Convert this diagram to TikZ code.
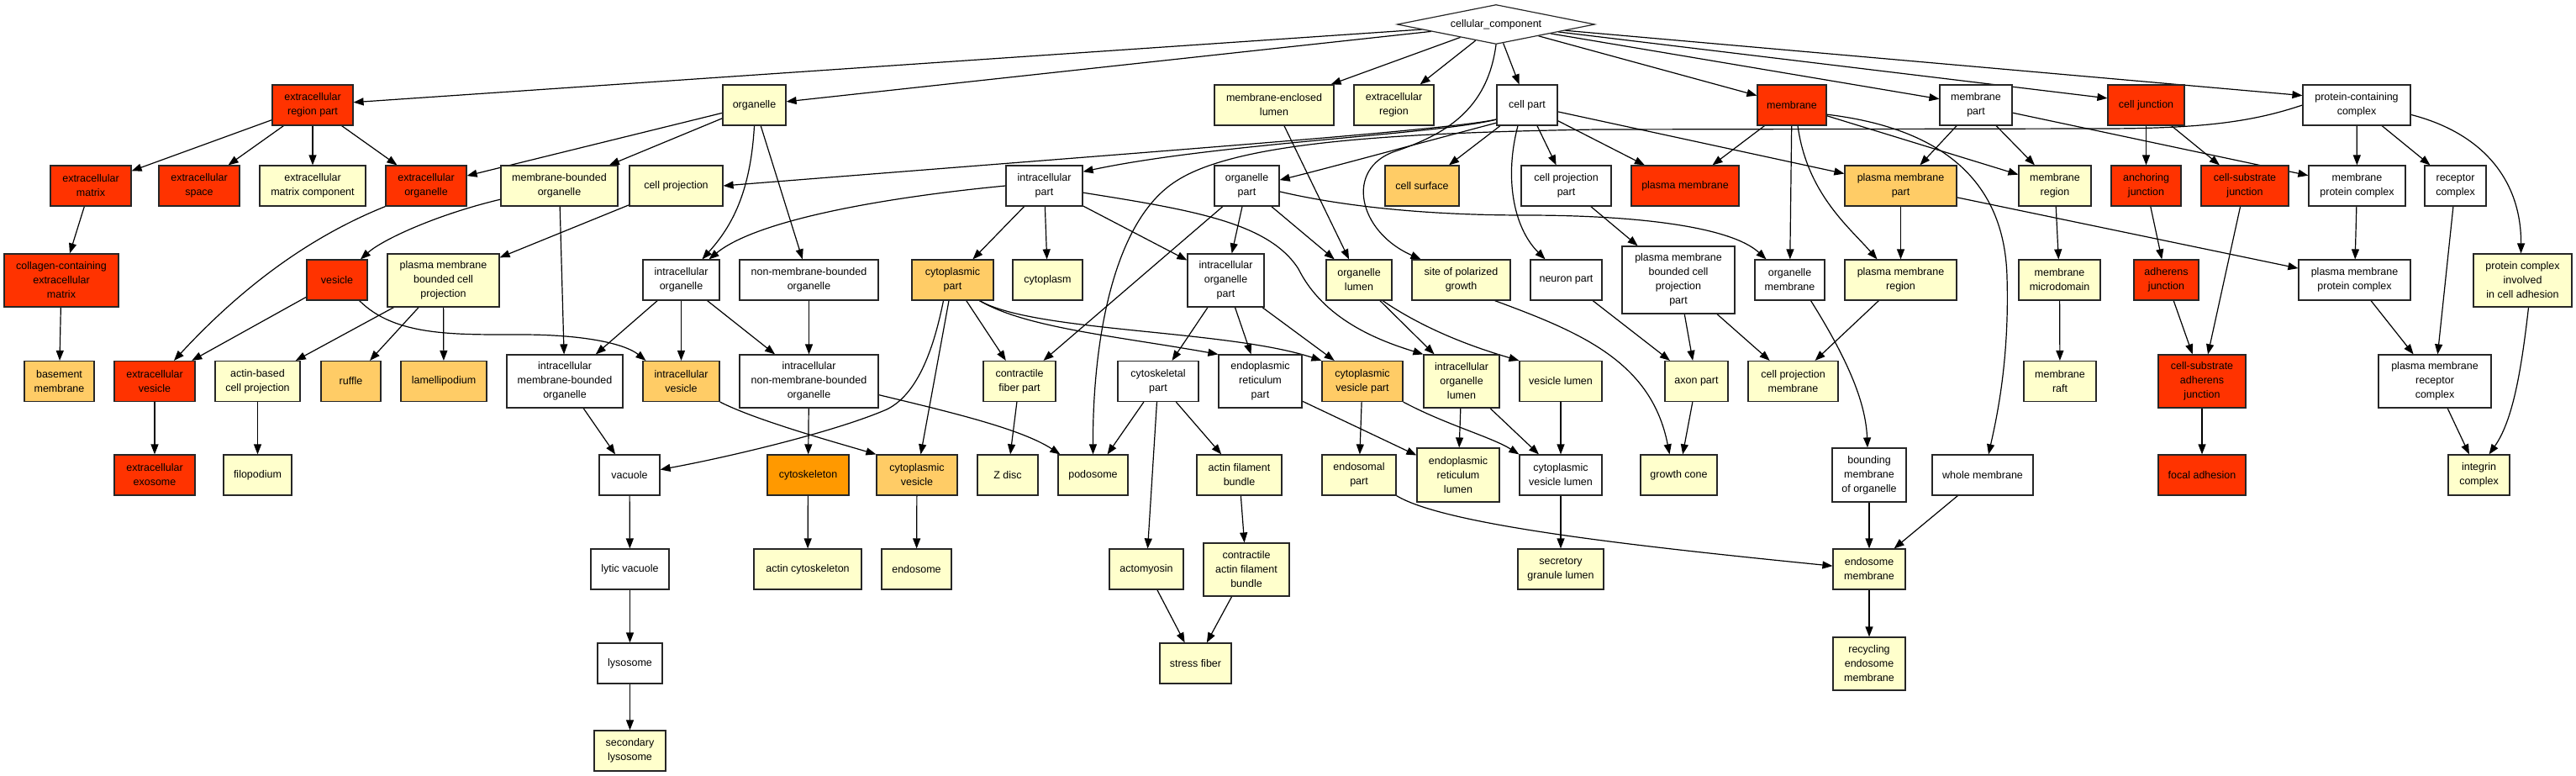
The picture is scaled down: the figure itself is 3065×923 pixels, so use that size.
\documentclass[tikz,border=0pt]{standalone}
\usepackage{fontspec}
\setmainfont{Liberation Sans}
\usetikzlibrary{arrows.meta,shapes.geometric}
\definecolor{cRed}{HTML}{FF3300}
\definecolor{cOra}{HTML}{FFCC66}
\definecolor{cDor}{HTML}{FF9900}
\definecolor{cLy}{HTML}{FFFFCC}
\newcommand{\gofont}{\fontsize{12.5}{17}\selectfont}
\newcommand{\gonode}[7]{\node[gobox,#6,minimum width={#3-#2},minimum height={#5}] (#1) at ({(#2+#3)/2},#4) {#7};}
\pgfdeclarelayer{bgl}
\pgfdeclarelayer{edgel}
\pgfsetlayers{bgl,edgel,main}
\tikzset{
  gobox/.style={draw=black!85, line width=1.2pt, rectangle, align=center, inner sep=0pt, font=\gofont, text=black},
  fR/.style={fill=cRed}, fO/.style={fill=cOra}, fD/.style={fill=cDor}, fY/.style={fill=cLy}, fW/.style={fill=white},
  arr/.style={draw=black, line width=1.2pt, -{Triangle[length=12pt,width=9pt]}}
}
\begin{document}
\begin{tikzpicture}[x=1pt,y=-1pt]
\begin{pgfonlayer}{bgl}
\fill[white] (0,0) rectangle (3065,923);
\end{pgfonlayer}
\useasboundingbox (0,0) rectangle (3065,923);

\node[diamond, draw=black!85, line width=1.2pt, fill=white, minimum width=235pt, minimum height=47pt, inner sep=0pt, aspect=5, font=\gofont] (cc) at (1780,29) {cellular\_component};

% row 1
\gonode{erp}{324}{420}{125}{48}{fR}{extracellular\\region part}
\gonode{org}{860}{935}{125}{48}{fY}{organelle}
\gonode{mel}{1445}{1587}{125}{48}{fY}{membrane-enclosed\\lumen}
\gonode{exr}{1611}{1706}{125}{48}{fY}{extracellular\\region}
\gonode{cp}{1781}{1853}{125}{48}{fW}{cell part}
\gonode{mem}{2091}{2173}{125}{48}{fR}{membrane}
\gonode{memp}{2308}{2394}{125}{48}{fW}{membrane\\part}
\gonode{cj}{2508}{2599}{125}{48}{fR}{cell junction}
\gonode{pcc}{2740}{2868}{125}{48}{fW}{protein-containing\\complex}
% row 2
\gonode{ecm}{60}{156}{221}{48}{fR}{extracellular\\matrix}
\gonode{ecs}{189}{285}{221}{48}{fR}{extracellular\\space}
\gonode{ecmc}{309}{435}{221}{48}{fY}{extracellular\\matrix component}
\gonode{eco}{459}{555}{221}{48}{fR}{extracellular\\organelle}
\gonode{mbo}{596}{735}{221}{48}{fY}{membrane-bounded\\organelle}
\gonode{cproj}{749}{860}{221}{48}{fY}{cell projection}
\gonode{icp}{1197}{1288}{221}{48}{fW}{intracellular\\part}
\gonode{orgp}{1445}{1522}{221}{48}{fW}{organelle\\part}
\gonode{csurf}{1648}{1736}{221}{48}{fO}{cell surface}
\gonode{cpp}{1810}{1917}{221}{48}{fW}{cell projection\\part}
\gonode{pm}{1941}{2069}{221}{48}{fR}{plasma membrane}
\gonode{pmp}{2195}{2328}{221}{48}{fO}{plasma membrane\\part}
\gonode{mreg}{2402}{2488}{221}{48}{fY}{membrane\\region}
\gonode{aj}{2512}{2595}{221}{48}{fR}{anchoring\\junction}
\gonode{csj}{2619}{2723}{221}{48}{fR}{cell-substrate\\junction}
\gonode{mpc}{2747}{2862}{221}{48}{fW}{membrane\\protein complex}
\gonode{rc}{2885}{2958}{221}{48}{fW}{receptor\\complex}
% row 3
\gonode{cecm}{5}{141}{333.5}{63}{fR}{collagen-containing\\extracellular\\matrix}
\gonode{ves}{365}{437}{333}{48}{fR}{vesicle}
\gonode{pmbcp}{461}{594}{333.5}{63}{fY}{plasma membrane\\bounded cell\\projection}
\gonode{io}{765}{856}{333}{48}{fW}{intracellular\\organelle}
\gonode{nmbo}{880}{1045}{333}{48}{fW}{non-membrane-bounded\\organelle}
\gonode{cytp}{1085}{1182}{333}{48}{fO}{cytoplasmic\\part}
\gonode{cyto}{1205}{1288}{333}{48}{fY}{cytoplasm}
\gonode{iop}{1413}{1504}{333.5}{63}{fW}{intracellular\\organelle\\part}
\gonode{orgl}{1578}{1656}{333}{48}{fY}{organelle\\lumen}
\gonode{spg}{1680}{1797}{333}{48}{fY}{site of polarized\\growth}
\gonode{np}{1821}{1906}{333}{48}{fW}{neuron part}
\gonode{pmbcpp}{1930}{2064}{333}{80}{fW}{plasma membrane\\bounded cell\\projection\\part}
\gonode{orgm}{2088}{2171}{333}{48}{fW}{organelle\\membrane}
\gonode{pmr}{2195}{2328}{333}{48}{fY}{plasma membrane\\region}
\gonode{mmd}{2402}{2499}{333}{48}{fY}{membrane\\microdomain}
\gonode{adj}{2539}{2616}{333}{48}{fR}{adherens\\junction}
\gonode{pmpc}{2735}{2868}{333}{48}{fW}{plasma membrane\\protein complex}
\gonode{pcica}{2943}{3060}{333.5}{63}{fY}{protein complex\\involved\\in cell adhesion}
% row 4
\gonode{bm}{29}{112}{453.5}{48}{fO}{basement\\membrane}
\gonode{ecv}{136}{232}{453.5}{48}{fR}{extracellular\\vesicle}
\gonode{abcp}{256}{357}{453.5}{48}{fY}{actin-based\\cell projection}
\gonode{ruf}{382}{453}{453.5}{48}{fO}{ruffle}
\gonode{lam}{477}{579}{453.5}{48}{fO}{lamellipodium}
\gonode{imbo}{603}{741}{453.5}{63}{fW}{intracellular\\membrane-bounded\\organelle}
\gonode{iv}{765}{856}{453.5}{48}{fO}{intracellular\\vesicle}
\gonode{inmbo}{880}{1045}{453.5}{63}{fW}{intracellular\\non-membrane-bounded\\organelle}
\gonode{cfp}{1170}{1256}{453.5}{48}{fY}{contractile\\fiber part}
\gonode{cskp}{1330}{1426}{453.5}{48}{fW}{cytoskeletal\\part}
\gonode{erpt}{1450}{1549}{453.5}{63}{fW}{endoplasmic\\reticulum\\part}
\gonode{cvp}{1573}{1669}{453.5}{48}{fO}{cytoplasmic\\vesicle part}
\gonode{iol}{1694}{1784}{453.5}{63}{fY}{intracellular\\organelle\\lumen}
\gonode{vl}{1808}{1906}{453.5}{48}{fY}{vesicle lumen}
\gonode{axp}{1981}{2056}{453.5}{48}{fY}{axon part}
\gonode{cpm}{2080}{2187}{453.5}{48}{fY}{cell projection\\membrane}
\gonode{mraft}{2408}{2494}{453.5}{48}{fY}{membrane\\raft}
\gonode{csaj}{2568}{2672}{453.5}{63}{fR}{cell-substrate\\adherens\\junction}
\gonode{pmrc}{2830}{2964}{453.5}{63}{fW}{plasma membrane\\receptor\\complex}
% row 5
\gonode{exo}{136}{232}{565}{48}{fR}{extracellular\\exosome}
\gonode{filo}{266}{347}{565}{48}{fY}{filopodium}
\gonode{vac}{713}{785}{565}{48}{fW}{vacuole}
\gonode{csk}{913}{1010}{565}{48}{fD}{cytoskeleton}
\gonode{cv}{1043}{1139}{565}{48}{fO}{cytoplasmic\\vesicle}
\gonode{zd}{1163}{1235}{565}{48}{fY}{Z disc}
\gonode{pod}{1259}{1342}{565}{48}{fY}{podosome}
\gonode{afb}{1424}{1525}{565}{48}{fY}{actin filament\\bundle}
\gonode{endp}{1573}{1661}{565}{48}{fY}{endosomal\\part}
\gonode{erl}{1686}{1784}{565}{64}{fY}{endoplasmic\\reticulum\\lumen}
\gonode{cvl}{1808}{1906}{565}{48}{fW}{cytoplasmic\\vesicle lumen}
\gonode{gc}{1952}{2043}{565}{48}{fY}{growth cone}
\gonode{bmo}{2180}{2268}{565}{64}{fW}{bounding\\membrane\\of organelle}
\gonode{wm}{2299}{2419}{565}{48}{fW}{whole membrane}
\gonode{fa}{2568}{2672}{565}{48}{fR}{focal adhesion}
\gonode{ic}{2913}{2986}{565}{48}{fY}{integrin\\complex}
% row 6
\gonode{lv}{703}{796}{677}{48}{fW}{lytic vacuole}
\gonode{acsk}{897}{1025}{677}{48}{fY}{actin cytoskeleton}
\gonode{endo}{1049}{1132}{677}{48}{fY}{endosome}
\gonode{amy}{1320}{1408}{677}{48}{fY}{actomyosin}
\gonode{cafb}{1432}{1534}{677.5}{63}{fY}{contractile\\actin filament\\bundle}
\gonode{sgl}{1806}{1908}{677}{48}{fY}{secretory\\granule lumen}
\gonode{em}{2181}{2267}{677}{48}{fY}{endosome\\membrane}
% row 7
\gonode{lys}{711}{788}{789}{48}{fW}{lysosome}
\gonode{sf}{1380}{1465}{789}{48}{fY}{stress fiber}
\gonode{rem}{2181}{2267}{789.5}{63}{fY}{recycling\\endosome\\membrane}
% row 8
\gonode{sl}{707}{792}{893}{48}{fY}{secondary\\lysosome}

\begin{pgfonlayer}{edgel}
% from cellular_component
\draw[arr] (cc) -- (erp);
\draw[arr] (cc) -- (org);
\draw[arr] (cc) -- (mel);
\draw[arr] (cc) -- (exr);
\draw[arr] (cc) -- (cp);
\draw[arr] (cc) -- (mem);
\draw[arr] (cc) -- (memp);
\draw[arr] (cc) -- (cj.170);
\draw[arr] (cc) -- (pcc.170);
\draw[arr] (cc.south) .. controls (1770,130) and (1720,160) .. (1660,180) .. controls (1600,200) and (1615,275) .. ([xshift=-48]spg.north);
% extracellular region part
\draw[arr] (erp) -- (ecm);
\draw[arr] (erp) -- (ecs);
\draw[arr] (erp) -- (ecmc);
\draw[arr] (erp) -- (eco);
\draw[arr] (ecm) -- (cecm);
\draw[arr] (cecm) -- (bm);
\draw[arr] (eco.south west) .. controls (360,285) and (280,350) .. ([xshift=23]ecv.north);
% organelle
\draw[arr] (org) -- (eco);
\draw[arr] (org) -- (mbo);
\draw[arr] (org.south) .. controls (893,230) and (870,270) .. ([xshift=25]io.north);
\draw[arr] (org) -- (nmbo);
\draw[arr] (mbo.193) .. controls (520,255) and (455,285) .. ([xshift=28]ves.north);
\draw[arr] (mbo) -- (imbo);
\draw[arr] (cproj) -- (pmbcp);
\draw[arr] (ves) -- (ecv);
\draw[arr] ([xshift=-10]ves.south east) .. controls (470,400) and (540,398) .. (620,398) .. controls (700,398) and (745,410) .. ([xshift=4]iv.north west);
\draw[arr] (pmbcp) -- (abcp);
\draw[arr] (pmbcp) -- (ruf);
\draw[arr] (pmbcp) -- (lam);
\draw[arr] (ecv) -- (exo);
\draw[arr] (abcp) -- (filo);
\draw[arr] (io) -- (imbo);
\draw[arr] (io) -- (iv);
\draw[arr] (io) -- (inmbo);
\draw[arr] (nmbo) -- (inmbo);
\draw[arr] (imbo) -- (vac);
\draw[arr] (vac) -- (lv);
\draw[arr] (lv) -- (lys);
\draw[arr] (lys) -- (sl);
\draw[arr] (inmbo) -- (csk);
\draw[arr] (csk) -- (acsk);
\draw[arr] (inmbo.-11) .. controls (1130,490) and (1215,510) .. ([xshift=3]pod.north west);
\draw[arr] (iv.south east) .. controls (900,500) and (990,525) .. (cv.north west);
\draw[arr] (cv) -- (endo);
% cell part
\draw[arr] (cp.205) .. controls (1710,160) and (1450,170) .. (icp.20);
\draw[arr] (cp.205) .. controls (1720,155) and (1400,178) .. (cproj.east);
\draw[arr] (cp.210) .. controls (1690,170) and (1580,200) .. (orgp.10);
\draw[arr] (cp) -- (csurf);
\draw[arr] (cp) -- (cpp);
\draw[arr] (cp) -- (pm);
\draw[arr] (cp) -- (pmp);
\draw[arr] ([xshift=-11]cp.south) .. controls (1790,210) and (1800,270) .. ([xshift=-25]np.north);
% intracellular part
\draw[arr] (icp.west) .. controls (1050,235) and (900,262) .. ([xshift=33]io.north);
\draw[arr] (icp) -- (cytp);
\draw[arr] (icp) -- (cyto);
\draw[arr] (icp) -- (iop);
\draw[arr] (icp.-10) .. controls (1420,250) and (1510,265) .. (1545,320) .. controls (1575,380) and (1640,405) .. (iol.north west);
% organelle part
\draw[arr] (orgp) -- (iop);
\draw[arr] (orgp) -- (orgl);
\draw[arr] (orgp) -- (cfp);
\draw[arr] (orgp.-10) .. controls (1600,246) and (1700,256) .. (1815,256) .. controls (1950,256) and (2060,270) .. ([xshift=-28]orgm.north);
\draw[arr] (mel) -- (orgl);
% cytoplasmic part
\draw[arr] ([xshift=-11]cytp.south) .. controls (1110,420) and (1090,470) .. (1055,487) .. controls (990,515) and (860,545) .. (vac.10);
\draw[arr] (cytp) -- (cv);
\draw[arr] (cytp) -- (cfp);
\draw[arr] ([xshift=32]cytp.south) .. controls (1220,390) and (1330,400) .. (erpt.north west);
\draw[arr] ([xshift=32]cytp.south) .. controls (1230,395) and (1460,392) .. (cvp.north west);
\draw[arr] (cfp) -- (zd);
% intracellular organelle part
\draw[arr] (iop) -- (cskp);
\draw[arr] (iop) -- (erpt);
\draw[arr] (iop) -- (cvp);
\draw[arr] (cskp) -- (pod);
\draw[arr] (cskp) -- (amy);
\draw[arr] (cskp) -- (afb);
\draw[arr] (afb) -- (cafb);
\draw[arr] (amy) -- (sf);
\draw[arr] (cafb) -- (sf);
\draw[arr] (erpt) -- (erl);
\draw[arr] (cvp) -- (endp);
\draw[arr] (cvp.south east) .. controls (1720,505) and (1775,520) .. (cvl.north west);
\draw[arr] (endp.south east) .. controls (1720,625) and (1950,650) .. (em.175);
% lumen
\draw[arr] (orgl) -- (iol);
\draw[arr] ([xshift=28]orgl.south) .. controls (1700,395) and (1760,415) .. (vl.north west);
\draw[arr] (iol) -- (erl);
\draw[arr] (iol) -- (cvl);
\draw[arr] (vl) -- (cvl);
\draw[arr] (cvl) -- (sgl);
% projections
\draw[arr] ([xshift=40]spg.south) .. controls (1880,395) and (1965,430) .. ([xshift=-11]gc.north);
\draw[arr] (cpp) -- (pmbcpp);
\draw[arr] (np) -- (axp);
\draw[arr] (pmbcpp) -- (axp);
\draw[arr] (pmbcpp) -- (cpm);
\draw[arr] (axp) -- (gc);
% membrane
\draw[arr] (mem) -- (pm);
\draw[arr] (mem) -- (orgm);
\draw[arr] ([xshift=7]mem.south) .. controls (2150,230) and (2200,270) .. ([xshift=-28]pmr.north);
\draw[arr] (mem) -- (mreg);
\draw[arr] (mem.-15) .. controls (2290,150) and (2385,200) .. (2388,330) .. controls (2391,430) and (2375,500) .. ([xshift=7]wm.north);
\draw[arr] (memp) -- (pmp);
\draw[arr] (memp) -- (mreg);
\draw[arr] (memp) -- (mpc);
\draw[arr] (pmp) -- (pmr);
\draw[arr] (pmp) -- (pmpc);
\draw[arr] (pmr) -- (cpm);
\draw[arr] ([xshift=25]orgm.south) .. controls (2200,430) and (2220,480) .. ([xshift=-2]bmo.north);
\draw[arr] (bmo) -- (em);
\draw[arr] (wm) -- (em);
\draw[arr] (em) -- (rem);
\draw[arr] (mreg) -- (mmd);
\draw[arr] (mmd) -- (mraft);
% junctions
\draw[arr] (cj) -- (aj);
\draw[arr] (cj) -- (csj);
\draw[arr] (aj) -- (adj);
\draw[arr] (adj) -- (csaj);
\draw[arr] (csj) -- (csaj);
\draw[arr] (csaj) -- (fa);
% complexes
\draw[arr] (pcc.west) .. controls (2680,145) and (2620,153) .. (2500,153) -- (1900,154) .. controls (1650,158) and (1470,170) .. (1400,215) .. controls (1320,265) and (1300,420) .. (pod.north);
\draw[arr] (pcc) -- (mpc);
\draw[arr] (pcc) -- (rc);
\draw[arr] (pcc.-10) .. controls (2960,160) and (3000,220) .. ([xshift=-2]pcica.north);
\draw[arr] (mpc) -- (pmpc);
\draw[arr] (pmpc) -- (pmrc);
\draw[arr] (rc) -- (pmrc);
\draw[arr] (pmrc) -- (ic);
\draw[arr] ([xshift=7]pcica.south) .. controls (3000,440) and (2990,500) .. ([xshift=12]ic.north);
\end{pgfonlayer}
\end{tikzpicture}
\end{document}
